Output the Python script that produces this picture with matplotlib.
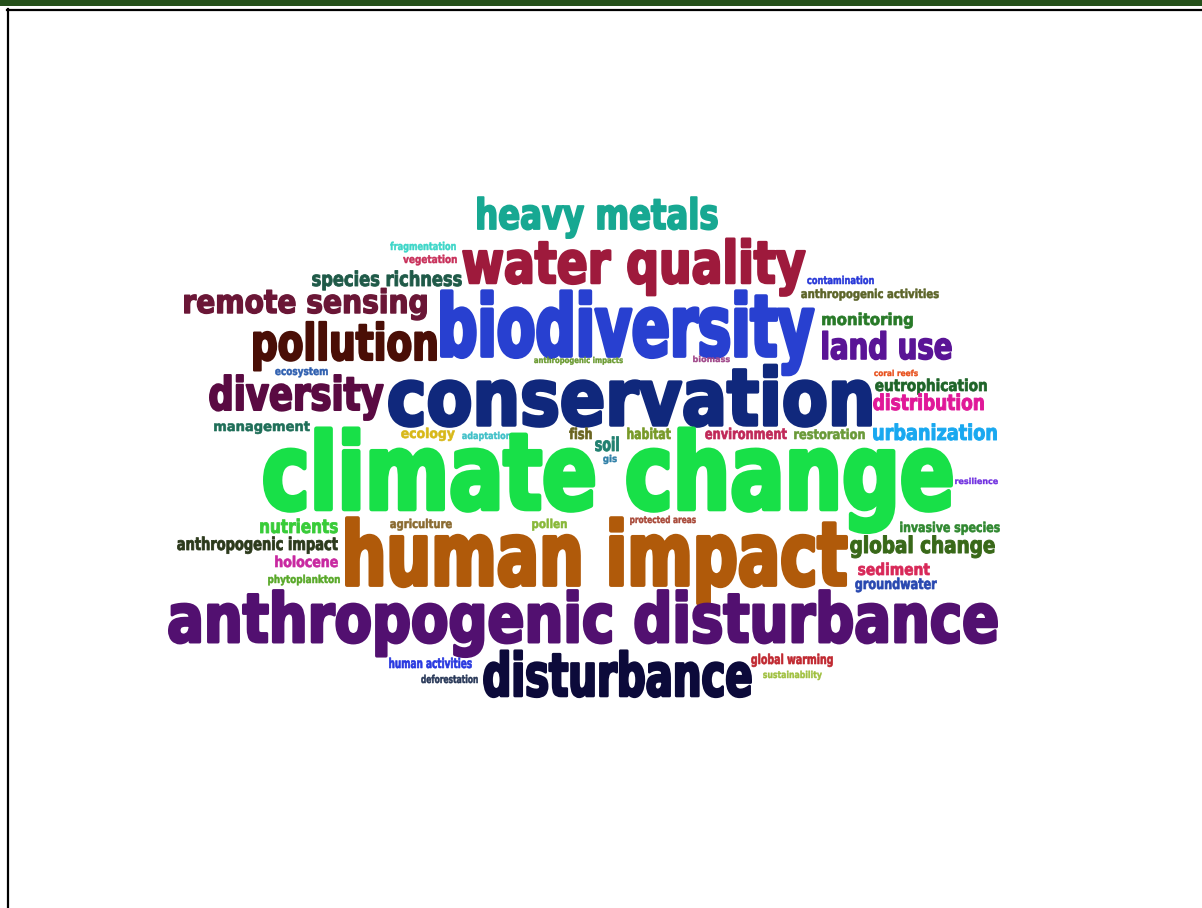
import matplotlib
matplotlib.use("Agg")
import matplotlib.pyplot as plt
from matplotlib.textpath import TextPath
from matplotlib.font_manager import FontProperties, fontManager
from matplotlib.patches import Rectangle
from matplotlib.transforms import Affine2D, Bbox
from matplotlib.patheffects import AbstractPathEffect
from matplotlib.lines import Line2D
from matplotlib.text import Text

# ---------------- data: keywords, their size (ascender height, px) and colour
words = ["heavy metals", "water quality", "species richness", "fragmentation", "vegetation",
         "remote sensing", "pollution", "biodiversity", "contamination", "anthropogenic activities",
         "monitoring", "land use", "conservation", "diversity", "ecosystem",
         "anthropogenic impacts", "biomass", "coral reefs", "eutrophication", "distribution",
         "management", "ecology", "adaptation", "fish", "soil",
         "habitat", "environment", "restoration", "urbanization", "gis",
         "climate change", "resilience", "nutrients", "agriculture", "pollen",
         "protected areas", "invasive species", "anthropogenic impact", "human impact", "global change",
         "holocene", "sediment", "phytoplankton", "groundwater", "anthropogenic disturbance",
         "human activities", "global warming", "disturbance", "deforestation", "sustainability"]
sizes = [31, 43, 15, 8, 8,
         24, 37, 63, 8, 9,
         12, 27, 58, 34, 8,
         6, 6, 6, 12, 16,
         10, 10, 7, 11, 14,
         11, 11, 10, 16, 7,
         78, 6, 14, 9, 9,
         7, 10, 13, 65, 17,
         11, 12, 8, 11, 50,
         10, 10, 44, 8, 7]
colors = ["#17a892", "#9e1a3c", "#1f5a48", "#3dd6c8", "#c8305a",
          "#6a1636", "#4a0e06", "#2840d0", "#2838d8", "#5c6428",
          "#287a28", "#5a1496", "#10287c", "#5a0a42", "#3060b0",
          "#6a9a30", "#a0488a", "#e8501c", "#1e6428", "#e01898",
          "#1e6e58", "#d8b818", "#40c0c8", "#6a6420", "#208070",
          "#789a28", "#c02858", "#6a9a38", "#18a8f0", "#3080a8",
          "#18e048", "#7030e0", "#38cc38", "#8a6a30", "#88b838",
          "#a84838", "#308830", "#2c3a1c", "#b05a0a", "#386818",
          "#c828a0", "#d82858", "#58a828", "#2848b0", "#521070",
          "#2838e0", "#c02830", "#0c0a3a", "#283858", "#a0c040"]

# ---------------- layout of the cloud (pixels: left, right, baseline)
x_left = [477, 462, 312, 390, 403,
          184, 253, 440, 807, 801,
          822, 822, 388, 209, 275,
          534, 693, 874, 875, 873,
          214, 401, 462, 569, 595,
          627, 705, 794, 873, 603,
          263, 955, 260, 390, 532,
          630, 900, 177, 345, 850,
          275, 858, 268, 855, 168,
          389, 751, 483, 421, 763]
x_right = [718, 806, 462, 456, 457,
           427, 437, 815, 874, 939,
           913, 952, 872, 384, 328,
           623, 730, 918, 987, 984,
           310, 455, 511, 592, 619,
           671, 787, 865, 997, 617,
           953, 998, 338, 452, 567,
           696, 1000, 338, 848, 995,
           338, 930, 340, 937, 998,
           472, 833, 752, 478, 822]
baseline = [229, 283, 286, 250, 263,
            313, 360, 356, 284, 298,
            325, 359, 425, 410, 375,
            363, 362, 376, 391, 410,
            431, 438, 439, 439, 451,
            439, 439, 439, 440, 462,
            509, 484, 533, 528, 528,
            523, 532, 550, 585, 553,
            567, 575, 583, 589, 642,
            668, 664, 696, 683, 678]

W, H, DPI = 1202, 908, 100
BOLDEN = 0.045     # extra stroke, fraction of the em, to mimic a heavy display face
XH_BOOST = 1.06    # slightly taller lowercase, like a condensed display face


def pick_font():
    names = {f.name for f in fontManager.ttflist}
    for fam in ["Liberation Sans Narrow", "DejaVu Sans"]:
        if fam in names:
            return fam
    return "DejaVu Sans"


FAMILY = pick_font()
FP = FontProperties(family=FAMILY, weight="bold")


class HScale(AbstractPathEffect):
    """Horizontal squeeze (plus a thin same-colour stroke) of a text's glyphs."""

    def __init__(self, sx, x_anchor, ax, lw_pt, color):
        super().__init__()
        self.sx = sx
        self.xa = x_anchor
        self.ax = ax
        self.lw = lw_pt
        self.color = color

    def draw_path(self, renderer, gc, tpath, affine, rgbFace=None):
        xd = self.ax.transData.transform((self.xa, 0))[0]
        aff = affine + Affine2D().translate(-xd, 0).scale(self.sx, 1).translate(xd, 0)
        gc0 = renderer.new_gc()
        gc0.copy_properties(gc)
        gc0.set_linewidth(self.lw)
        gc0.set_foreground(self.color)
        gc0.set_joinstyle("round")
        renderer.draw_path(gc0, tpath, aff, rgbFace)
        gc0.restore()


class SqueezedText(Text):
    """Text whose reported extent follows the squeeze and ink it is drawn with."""

    def __init__(self, *args, sx=1.0, ink=None, **kwargs):
        super().__init__(*args, **kwargs)
        self._sx = sx
        self._ink = ink

    def get_window_extent(self, renderer=None, dpi=None):
        bb = super().get_window_extent(renderer, dpi)
        if self._ink is None:
            return bb
        (x0, y0), (x1, y1) = self._ink
        pts = self.axes.transData.transform([(x0, y0), (x1, y1)])
        return Bbox([[pts[:, 0].min(), pts[:, 1].min()],
                     [pts[:, 0].max(), pts[:, 1].max()]])


fig = plt.figure(figsize=(W / DPI, H / DPI), dpi=DPI)
fig.patch.set_facecolor("white")
ax = fig.add_axes([0, 0, 1, 1])
ax.set_xlim(0, W)
ax.set_ylim(H, 0)
ax.axis("off")

# frame: green band, black top rule and left rule
ax.add_patch(Rectangle((0, 0), W, 6, facecolor="#24501a", edgecolor="none"))
ax.add_line(Line2D([7, W], [10, 10], color="black", lw=1.6))
ax.add_line(Line2D([7.5, 7.5], [9, H], color="black", lw=1.6))

asc = TextPath((0, 0), "l", size=1, prop=FP).get_extents().y1

for w, s, c, x0, x1, yb in zip(words, sizes, colors, x_left, x_right, baseline):
    em_px = s / asc
    lw_px = BOLDEN * em_px
    em_px = (s - lw_px / 2) / asc * XH_BOOST
    ext = TextPath((0, 0), w, size=1, prop=FP).get_extents()
    sx = (x1 - x0 - lw_px) / (ext.width * em_px)
    anchor = x0 + lw_px / 2 - sx * ext.x0 * em_px
    ink = ((x0, yb - ext.y1 * em_px - lw_px / 2), (x1, yb - ext.y0 * em_px + lw_px / 2))
    t = SqueezedText(anchor, yb, w, sx=sx, ink=ink, fontproperties=FP,
                     fontsize=em_px * 72 / DPI, color=c, ha="left", va="baseline")
    t.set_path_effects([HScale(sx, anchor, ax, lw_px * 72 / DPI, c)])
    ax.add_artist(t)

fig.savefig("out.png", dpi=DPI, facecolor="white")
